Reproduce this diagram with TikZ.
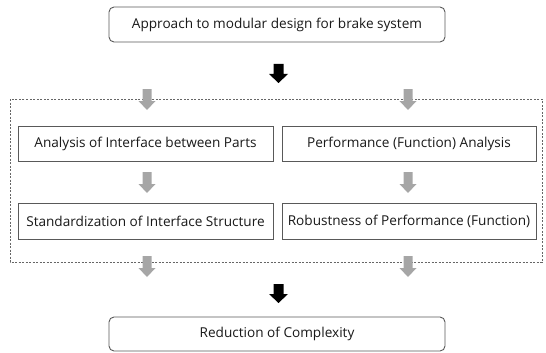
\documentclass[tikz,border=0pt]{standalone}
\usepackage{fontspec}
\setmainfont{Open Sans}
\begin{document}
\begin{tikzpicture}[x=1pt,y=-1pt,
  txt/.style={font=\fontsize{13.6}{15}\selectfont, text=black!90},
  rbox/.style={draw=black!65, line width=0.9pt, rounded corners=5pt, fill=white},
  sbox/.style={draw=black!65, line width=0.9pt, fill=white},
  garrow/.pic={\fill[black!35] (-4.5,0) -- (4.5,0) -- (4.5,12) -- (8.5,12) -- (0,21) -- (-8.5,12) -- (-4.5,12) -- cycle;},
  barrow/.pic={\fill[black] (-5,0) -- (5,0) -- (5,10) -- (9.5,10) -- (0,19) -- (-9.5,10) -- (-5,10) -- cycle;}
]
\useasboundingbox (0,0) rectangle (546,353);
% dashed frame
\draw[black!60, dash pattern=on 2pt off 1.5pt, line width=0.7pt] (10,99) rectangle (542,262);
% top box
\draw[rbox] (109,7) rectangle (445,42);
\node[txt] (top) at (277,24.5) {Approach to modular design for brake system};
\pic at (278.5,64) {barrow};
% arrows into frame
\pic at (147,89) {garrow};
\pic at (408,89) {garrow};
% row 1
\draw[sbox] (18,126) rectangle (273,161);
\node[txt] (a1) at (145.5,143.5) {Analysis of Interface between Parts};
\draw[sbox] (282,126) rectangle (536,161);
\node[txt] (b1) at (409,143.5) {Performance (Function) Analysis};
\pic at (147,172) {garrow};
\pic at (408,172) {garrow};
% row 2
\draw[sbox] (18,203) rectangle (273,239);
\node[txt] (a2) at (145.5,221) {Standardization of Interface Structure};
\draw[sbox] (282,203) rectangle (536,239);
\node[txt] (b2) at (409,221) {Robustness of Performance (Function)};
% out of frame
\pic at (147,256) {garrow};
\pic at (408,256) {garrow};
\pic at (278.5,284) {barrow};
% bottom box
\draw[rbox] (109,317) rectangle (445,351);
\node[txt] (bot) at (277,334) {Reduction of Complexity};
\end{tikzpicture}
\end{document}
